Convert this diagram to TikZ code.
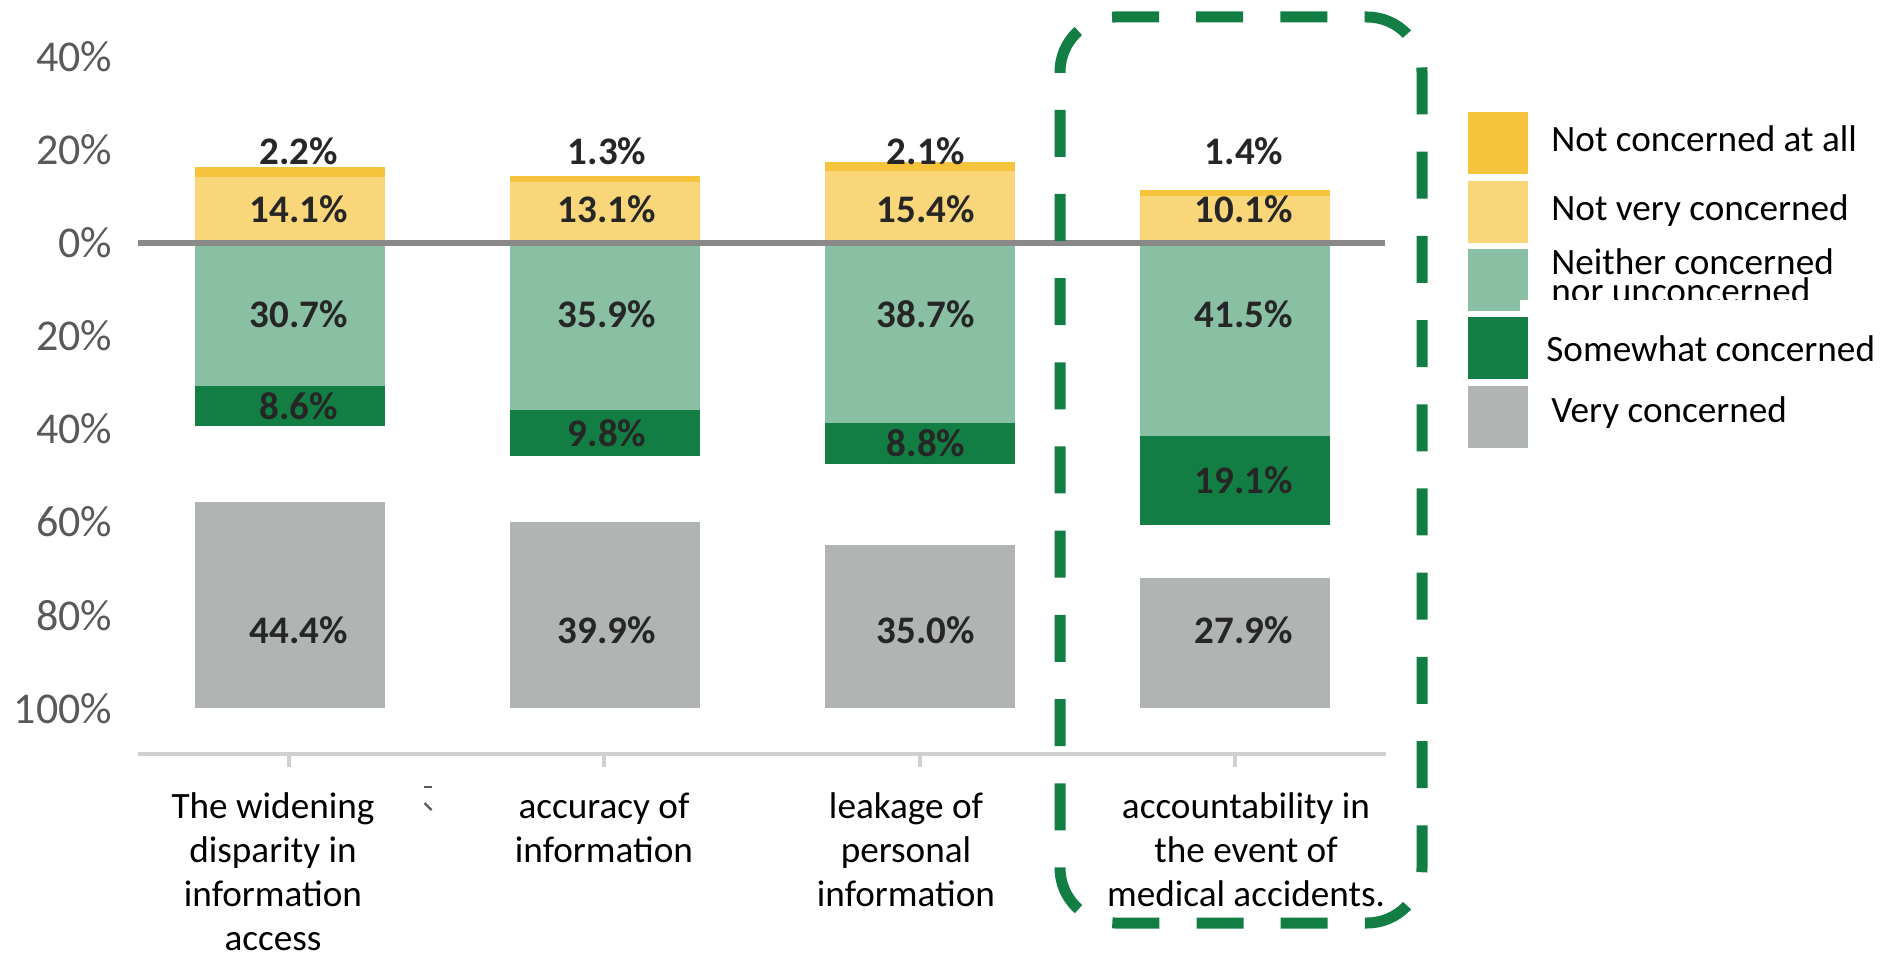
\documentclass[tikz,border=0pt]{standalone}
\usepackage{fontspec}
\setmainfont{Carlito}
\definecolor{cNA}{HTML}{F6C43C}
\definecolor{cNV}{HTML}{FAD67B}
\definecolor{cNe}{HTML}{89BFA3}
\definecolor{cSo}{HTML}{127E43}
\definecolor{cVe}{HTML}{B0B5B4}
\definecolor{cTxt}{HTML}{262626}
\definecolor{cAx}{HTML}{595959}
\definecolor{cZero}{HTML}{898989}
\definecolor{cCat}{HTML}{D0D0D0}
\tikzset{
  val/.style={anchor=base, inner sep=0pt, text=cTxt, font=\fontsize{19.5}{22}\selectfont\bfseries},
  axlab/.style={anchor=base east, inner sep=0pt, text=cAx, font=\fontsize{22}{26}\selectfont},
  catlab/.style={anchor=base, inner sep=0pt, text=black, font=\fontsize{18.6}{22}\selectfont},
  leglab/.style={anchor=base west, inner sep=0pt, text=black, font=\fontsize{18.6}{22}\selectfont},
  swatch/.style={inner sep=0pt, minimum width=30pt, minimum height=31pt, anchor=north west},
}
\begin{document}
\begin{tikzpicture}[x=0.5pt,y=-0.5pt]
\useasboundingbox (0,0) rectangle (1900,956);
% bars
\foreach \i/\L/\na/\nv/\ne/\so/\ve/\lx in {
  1/195/2.2/14.1/30.7/8.6/44.4/299,
  2/509.5/1.3/13.1/35.9/9.8/39.9/607,
  3/824.5/2.1/15.4/38.7/8.8/35.0/926,
  4/1139.5/1.4/10.1/41.5/19.1/27.9/1244}{
  \pgfmathsetmacro{\R}{\L+190}
  \pgfmathsetmacro{\yT}{243-4.65*(\na+\nv)}
  \pgfmathsetmacro{\yN}{243-4.65*\nv}
  \pgfmathsetmacro{\yE}{243+4.65*\ne}
  \pgfmathsetmacro{\yS}{243+4.65*(\ne+\so)}
  \pgfmathsetmacro{\yV}{708-4.65*\ve}
  \pgfmathsetmacro{\yL}{(\yE+\yS)/2+13.5}
  \fill[cNA] (\L,\yT) rectangle (\R,\yN);
  \fill[cNV] (\L,\yN) rectangle (\R,243);
  \fill[cNe] (\L,243) rectangle (\R,\yE);
  \fill[cSo] (\L,\yE) rectangle (\R,\yS);
  \fill[cVe] (\L,\yV) rectangle (\R,708);
  \node[val] (t\i) at (\lx,165) {\na\%};
  \node[val] (y\i) at (\lx,223) {\nv\%};
  \node[val] (g\i) at (\lx,328) {\ne\%};
  \node[val] (d\i) at (\lx,\yL) {\so\%};
  \node[val] (v\i) at (\lx,643) {\ve\%};
}
% zero line
\coordinate (z0) at (138,243);
\coordinate (z1) at (1385,243);
\draw[cZero, line width=2.75pt] (z0) -- (z1);
% y axis labels
\foreach \k/\t in {72/40,165/20,258/0,351/20,444/40,537/60,630/80,723/100}{
  \node[axlab] (ya\k) at (112.5,\k) {\t\%};
}
% category axis
\coordinate (c0) at (138,754);
\coordinate (c1) at (1386,754);
\draw[cCat, line width=2.25pt] (c0) -- (c1);
\foreach \x in {289,604,920,1235}{
  \coordinate (tk\x) at (\x,754);
  \draw[cCat, line width=1.75pt] (tk\x) -- ++(0,13);
}
% category labels
\node[catlab] (l1a) at (273,818) {The widening};
\node[catlab] (l1b) at (273,862) {disparity in};
\node[catlab] (l1c) at (273,906) {information};
\node[catlab] (l1d) at (273,950) {access};
\node[catlab] (l2a) at (604,818) {accuracy of};
\node[catlab] (l2b) at (604,862) {information};
\node[catlab] (l3a) at (906,818) {leakage of};
\node[catlab] (l3b) at (906,862) {personal};
\node[catlab] (l3c) at (906,906) {information};
\node[catlab] (l4a) at (1246,818) {accountability in};
\node[catlab] (l4b) at (1246,862) {the event of};
\node[catlab] (l4c) at (1246,906) {medical accidents.};
% small stray mark
\coordinate (m0) at (424,787);
\coordinate (m1) at (432,787);
\coordinate (m2) at (424.5,803);
\coordinate (m3) at (431.5,810);
\draw[cAx, line width=1pt] (m0) -- (m1);
\draw[cAx, line width=1.2pt] (m2) -- (m3);
% legend
\node[swatch, fill=cNA] (s1) at (1468,112) {};
\node[swatch, fill=cNV] (s2) at (1468,181) {};
\node[swatch, fill=cNe] (s3) at (1468,249) {};
\node[swatch, fill=cSo] (s4) at (1468,317) {};
\node[swatch, fill=cVe] (s5) at (1468,386) {};
\node[leglab] (e1) at (1551,152) {Not concerned at all};
\node[leglab] (e2) at (1551,221) {Not very concerned};
\node[leglab] (e3) at (1551,275) {Neither concerned};
\node[leglab] (e3b) at (1551,304) {nor unconcerned};
\fill[white] (1520,300.5) rectangle (1840,312);
\node[leglab] (e4) at (1546,362) {Somewhat concerned};
\node[leglab] (e5) at (1551,423) {Very concerned};
% dashed highlight box
\coordinate (h0) at (1060,157);
\coordinate (h1) at (1060,17);
\coordinate (h2) at (1422,17);
\coordinate (h3) at (1422,923);
\coordinate (h4) at (1060,923);
\draw[cSo, line width=5.5pt, dash pattern=on 23.5pt off 18.6pt, rounded corners=27.5pt]
  (h0) -- (h1) -- (h2) -- (h3) -- (h4) -- (h0);
\end{tikzpicture}
\end{document}
